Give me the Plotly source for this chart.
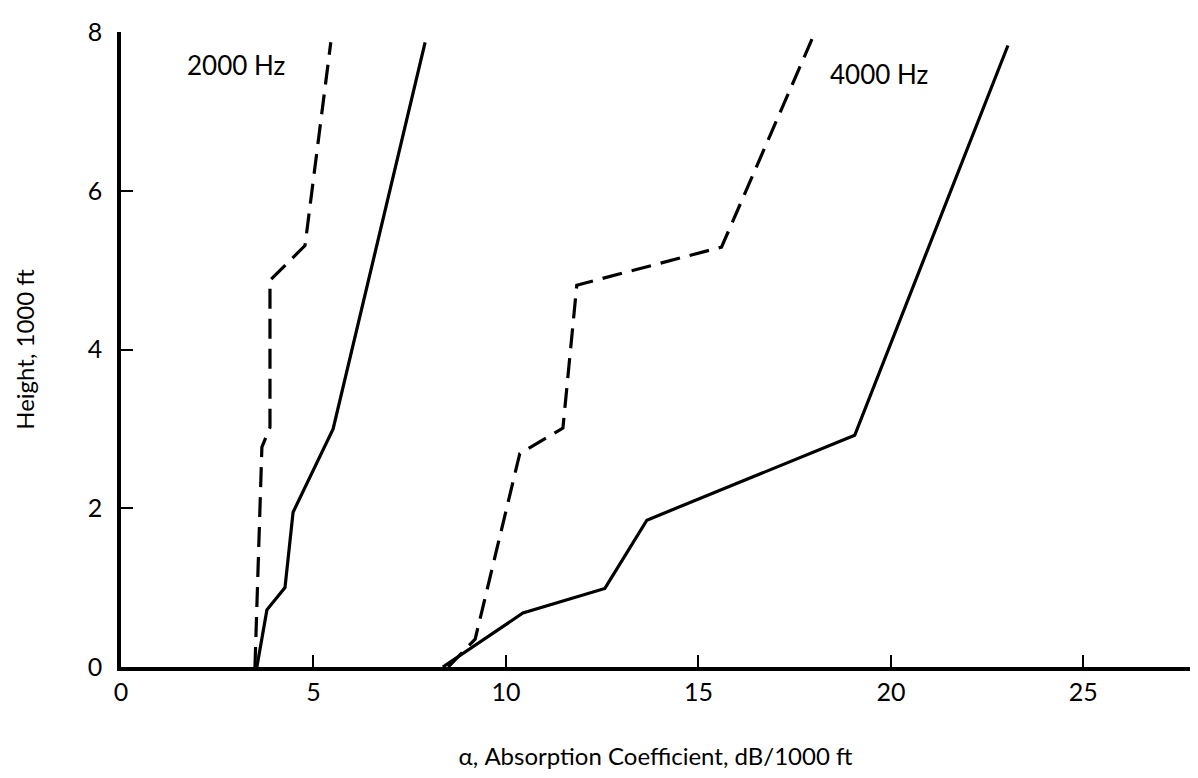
import plotly.graph_objects as go

# 2000 Hz
x_2000_solid = [3.53, 3.79, 4.26, 4.47, 5.51, 7.9]
y_2000_solid = [0.0, 0.72, 1.0, 1.95, 3.0, 7.87]
x_2000_dash = [3.48, 3.66, 3.87, 3.87, 4.78, 5.45]
y_2000_dash = [0.0, 2.77, 3.02, 4.87, 5.31, 7.87]

# 4000 Hz
x_4000_solid = [8.36, 10.44, 12.57, 13.66, 19.06, 23.04]
y_4000_solid = [0.0, 0.68, 0.99, 1.85, 2.92, 7.83]
x_4000_dash = [8.5, 9.2, 10.36, 11.48, 11.84, 15.6, 17.95]
y_4000_dash = [0.0, 0.35, 2.69, 3.01, 4.81, 5.29, 7.91]

x_ticks = [0, 5, 10, 15, 20, 25]
y_ticks = [0, 2, 4, 6, 8]

FONT = "Lato"
fig = go.Figure()
for xs, ys, dash in [
    (x_2000_solid, y_2000_solid, "solid"),
    (x_2000_dash, y_2000_dash, "20px,10px"),
    (x_4000_solid, y_4000_solid, "solid"),
    (x_4000_dash, y_4000_dash, "20px,10px"),
]:
    fig.add_trace(go.Scatter(x=xs, y=ys, mode="lines",
                             line=dict(color="black", width=3.2, dash=dash),
                             showlegend=False, hoverinfo="skip"))

fig.add_annotation(x=3.0, y=7.58, text="2000 Hz", showarrow=False,
                   font=dict(family=FONT, size=26, color="black"))
fig.add_annotation(x=19.7, y=7.47, text="4000 Hz", showarrow=False,
                   font=dict(family=FONT, size=26, color="black"))

fig.update_xaxes(range=[0, 27.77], tickvals=x_ticks, ticktext=[str(v) for v in x_ticks],
                 showline=True, linecolor="black", linewidth=3.5,
                 ticks="inside", ticklen=12, tickwidth=2, tickcolor="black",
                 showgrid=False, zeroline=False, automargin=False,
                 tickfont=dict(family=FONT, size=25, color="black"),
                 title=dict(text="α, Absorption Coefficient, dB/1000 ft",
                            font=dict(family=FONT, size=24, color="black"),
                            standoff=44))
fig.update_yaxes(range=[0, 8], tickvals=y_ticks, ticktext=[str(v) for v in y_ticks],
                 showline=True, linecolor="black", linewidth=3.5,
                 ticks="inside", ticklen=12, tickwidth=2, tickcolor="black",
                 showgrid=False, zeroline=False, automargin=False,
                 tickfont=dict(family=FONT, size=25, color="black"),
                 ticklabelstandoff=10,
                 title=dict(text="Height, 1000 ft",
                            font=dict(family=FONT, size=24, color="black"),
                            standoff=47))

fig.update_layout(width=1182, height=762,
                  margin=dict(l=113, r=0, t=24, b=103),
                  plot_bgcolor="white", paper_bgcolor="white")

fig.write_html("out.html")
